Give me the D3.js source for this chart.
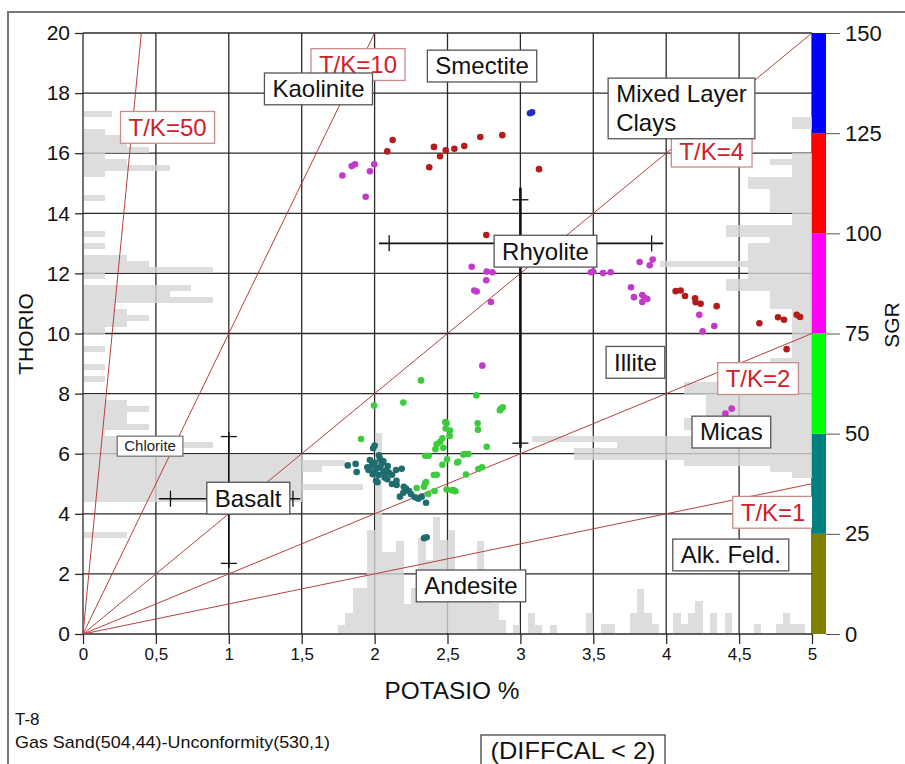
<!DOCTYPE html>
<html>
<head>
<meta charset="utf-8">
<script src="https://cdn.jsdelivr.net/npm/d3@7"></script>
<style>
  body { margin: 0; background: #fff; }
  svg text { font-family: "Liberation Sans", Arial, sans-serif; }
</style>
</head>
<body>
<svg id="chart" width="905" height="764"></svg>
<script>
/* tick values */
var kTicks = [0, 0.5, 1, 1.5, 2, 2.5, 3, 3.5, 4, 4.5, 5];
var thTicks = [0, 2, 4, 6, 8, 10, 12, 14, 16, 18, 20];
var sgrTicks = [0, 25, 50, 75, 100, 125, 150];

/* SGR colour bands (colour bar) and the dot colours used for each band */
var sgrBandColors = ['#808000', '#008080', '#00ff00', '#ff00ff', '#ff0000', '#0000ff'];
var dotColors = ['#6f7d2c', '#1f6c6e', '#3ccb3c', '#c23ac8', '#b41c1c', '#1f2ec4'];

/* thorium / potassium ratio lines */
var tkRatios = [50, 10, 4, 2, 1];

/* samples, [K %, Th ppm], grouped by SGR band */
var tealPts = [[2.0,6.27],[1.99,6.18],[1.816,5.61],[1.87,5.66],[1.877,5.39],[1.968,5.79],[2.037,5.83],
  [2.049,5.68],[2.019,5.52],[1.959,5.46],[2.09,5.59],[1.987,5.32],[2.028,5.29],[2.01,5.1],[2.06,5.37],
  [2.097,5.37],[2.147,5.46],[2.186,5.5],[2.087,5.15],[2.119,4.99],[2.151,4.96],[2.174,4.57],[2.197,4.7],
  [2.236,4.76],[2.215,4.84],[2.277,4.55],[2.323,4.57],[2.353,4.37],[2.339,3.19],[2.357,3.22],[2.03,5.95],
  [2.06,5.75],[1.98,5.6],[2.0,5.4],[2.04,5.55],[2.07,5.2],[2.12,5.3],[2.02,5.05],[2.15,5.1],[2.2,4.9],
  [2.25,4.65],[2.3,4.5],[2.0,5.7],[1.95,5.55],[2.08,5.45]];
var greenPts = [[2.318,8.44],[2.197,7.7],[1.996,7.6],[1.907,6.49],[2.698,7.94],[2.867,7.5],[2.879,7.54],
  [2.707,7.01],[2.709,6.8],[2.769,6.23],[2.485,7.05],[2.487,6.84],[2.517,6.77],[2.515,6.59],[2.465,6.51],
  [2.449,6.4],[2.426,6.31],[2.471,6.2],[2.417,6.15],[2.348,5.93],[2.371,5.93],[2.497,5.81],[2.465,5.63],
  [2.567,5.71],[2.608,5.97],[2.643,5.99],[2.627,5.31],[2.711,5.49],[2.737,5.55],[2.407,5.29],[2.426,5.3],
  [2.353,5.06],[2.339,4.9],[2.289,4.86],[2.494,4.81],[2.529,4.78],[2.554,4.75],[2.412,4.76],[2.368,4.66],
  [2.574,5.73],[2.54,4.79],[2.346,5.01],[2.494,7.01],[2.86,7.45],[2.62,5.99]];
var magentaPts = [[1.779,15.26],[1.843,15.57],[1.866,15.63],[1.968,15.4],[1.998,15.63],[1.939,14.55],
  [2.666,12.22],[2.769,12.06],[2.808,12.04],[2.766,11.77],[2.684,11.43],[2.7,11.4],[2.798,11.05],
  [3.484,12.04],[3.5,12.06],[3.567,12.01],[3.619,12.04],[3.818,12.38],[3.887,12.27],[3.907,12.46],
  [3.759,11.54],[3.779,11.21],[3.836,11.28],[3.852,11.19],[3.87,11.15],[3.836,11.05],[4.227,10.62],
  [4.33,10.25],[4.25,10.07],[4.406,7.34],[4.449,7.5],[2.739,8.93]];
var redPts = [[2.124,16.44],[2.087,16.06],[2.407,16.21],[2.449,15.9],[2.488,16.1],[2.547,16.15],
  [2.615,16.24],[2.725,16.54],[2.876,16.6],[2.375,15.53],[3.128,15.47],[2.766,13.28],[4.065,11.41],
  [4.099,11.43],[4.129,11.25],[4.198,11.17],[4.202,11.04],[4.236,10.99],[4.346,10.91],[4.639,10.34],
  [4.767,10.54],[4.808,10.46],[4.895,10.62],[4.918,10.55],[4.826,9.48]];
var bluePts = [[3.066,17.33],[3.08,17.36]];
/* representative SGR for each group */
var groupSgr = [40, 60, 90, 110, 135];

/* Th histogram on the left, [Th bin start, bar length in K] (bin 0.2) */
var thHistLeft = [[17.2,0.2],[16.6,0.15],[16.4,0.3],[16.2,0.3],[16.0,0.45],[15.8,0.15],[15.6,0.3],
  [15.4,0.6],[15.2,0.15],[14.4,0.15],[13.2,0.15],[12.8,0.15],[12.4,0.3],[12.2,0.45],[12.0,0.89],
  [11.8,0.15],[11.4,0.74],[11.2,0.6],[11.0,0.89],[10.8,0.22],[10.6,0.3],[10.4,0.45],[10.2,0.3],
  [10.0,0.15],[9.4,0.15],[8.8,0.15],[8.4,0.15],[7.8,0.15],[7.6,0.3],[7.4,0.45],[7.2,0.3],[7.0,0.3],
  [6.8,0.45],[6.6,0.15],[6.4,0.3],[6.2,0.89],[6.0,0.3],[5.8,1.5],[5.6,1.8],[5.4,1.64],[5.2,1.5],
  [5.0,1.5],[4.8,1.92],[4.6,1.5],[4.4,1.5],[3.2,0.3]];
/* Th histogram on the right, [Th bin start, bar length in K from the right edge] */
var thHistRight = [[17.0,0.14],[16.8,0.14],[15.8,0.14],[15.6,0.29],[15.4,0.14],[15.2,0.14],[15.0,0.44],
  [14.8,0.44],[14.6,0.29],[14.4,0.29],[14.2,0.29],[14.0,0.29],[13.8,0.14],[13.6,0.14],[13.4,0.59],
  [13.2,0.59],[13.0,0.29],[12.8,0.44],[12.6,0.44],[12.4,0.44],[12.2,1.04],[12.0,0.44],[11.8,0.44],
  [11.6,0.59],[11.4,0.59],[11.2,0.29],[11.0,0.29],[10.8,0.29],[10.6,0.14],[10.4,0.14],[10.2,0.14],
  [10.0,0.14],[9.8,0.14],[9.6,0.14],[9.4,0.14],[9.2,0.14],[9.0,0.29],[8.8,0.29],[8.6,0.44],[8.4,0.59],
  [8.2,0.88],[8.0,0.88],[7.8,0.73],[7.6,0.73],[7.4,0.73],[7.2,0.73],[7.0,0.88],[6.8,0.88],[6.6,0.73],
  [6.4,1.92],[6.2,1.34],[6.0,1.63],[5.8,1.63],[5.6,0.88],[5.4,0.29],[5.2,0.14]];
/* K histogram along the bottom, [K bin start, bar height in Th] (bin 0.05) */
var kHist = [[1.75,0.3],[1.8,0.69],[1.85,1.52],[1.9,1.52],[1.95,3.46],[2.0,6.69],[2.05,2.74],[2.1,2.74],
  [2.15,3.09],[2.2,1.0],[2.25,1.52],[2.3,3.18],[2.35,2.46],[2.4,3.9],[2.45,3.13],[2.5,3.46],[2.55,1.5],
  [2.6,1.5],[2.65,1.5],[2.7,3.1],[2.75,1.2],[2.8,1.03],[2.85,0.47],[2.95,0.3],[3.05,0.71],[3.1,0.3],
  [3.2,0.3],[3.45,0.71],[3.55,0.33],[3.6,0.33],[3.75,0.71],[3.8,1.5],[3.85,0.71],[3.9,0.33],[4.05,0.71],
  [4.1,0.33],[4.15,0.71],[4.2,1.1],[4.3,0.71],[4.4,0.71],[4.6,0.33],[4.75,0.33],[4.8,0.71],[4.85,0.33],
  [4.9,0.33]];

/* reference range crosses for the rock types */
var basaltCross = { k: 1.0, th: 4.5, kRange: [0.52, 1.49], kTicks: [0.6, 1.44],
  thRange: [2.2, 6.72], thTicks: [2.35, 6.57] };
var rhyoliteCross = { k: 3.0, th: 13.0, kRange: [2.03, 3.98], kTicks: [2.1, 3.9],
  thRange: [6.2, 14.85], thTicks: [6.35, 14.45] };

/* annotation boxes [lines, K, Th] */
var tkLabels = [['T/K=50', 0.58, 16.86], ['T/K=10', 1.886, 18.95], ['T/K=4', 4.312, 16.07],
  ['T/K=2', 4.63, 8.5], ['T/K=1', 4.733, 4.05]];
var mineralLabels = [[['Kaolinite'], 1.615, 18.14], [['Smectite'], 2.737, 18.9],
  [['Mixed Layer', 'Clays'], 4.105, 17.49], [['Rhyolite'], 3.172, 12.74], [['Illite'], 3.789, 9.04],
  [['Micas'], 4.447, 6.72], [['Basalt'], 1.134, 4.52], [['Alk. Feld.'], 4.443, 2.63],
  [['Andesite'], 2.661, 1.6]];
var chloriteLabel = ['Chlorite', 0.46, 6.25];

var svg = d3.select('#chart');

var x = d3.scaleLinear().domain([0, 5]).range([83, 812]);
var y = d3.scaleLinear().domain([0, 20]).range([634, 33]);
var sgrY = d3.scaleLinear().domain([0, 150]).range([634, 33]);
var dotColor = d3.scaleThreshold().domain([25, 50, 75, 100, 125]).range(dotColors);

/* outer frame */
svg.append('rect')
  .attr('x', 8).attr('y', 12).attr('width', 1000).attr('height', 1000)
  .attr('fill', '#fff').attr('stroke', '#777').attr('stroke-width', 2);

/* grid */
var grid = svg.append('g').attr('stroke', '#2a2a2a').attr('stroke-width', 1.3);
grid.selectAll('.gx').data(kTicks).enter().append('line')
  .attr('x1', function(d) { return x(d); }).attr('x2', function(d) { return x(d); })
  .attr('y1', y(0)).attr('y2', y(20));
grid.selectAll('.gy').data(thTicks).enter().append('line')
  .attr('x1', x(0)).attr('x2', x(5))
  .attr('y1', function(d) { return y(d); }).attr('y2', function(d) { return y(d); });

/* histograms, laid over the grid */
var hist = svg.append('g').attr('fill', '#d4d4d4').attr('fill-opacity', 0.8)
  .attr('shape-rendering', 'crispEdges');
hist.selectAll('.hl').data(thHistLeft).enter().append('rect')
  .attr('x', x(0) + 1)
  .attr('y', function(d) { return y(d[0] + 0.2); })
  .attr('width', function(d) { return x(d[1]) - x(0) - 1; })
  .attr('height', function(d) { return y(d[0]) - y(d[0] + 0.2); });
hist.selectAll('.hr').data(thHistRight).enter().append('rect')
  .attr('x', function(d) { return x(5 - d[1]); })
  .attr('y', function(d) { return y(d[0] + 0.2); })
  .attr('width', function(d) { return x(5) - x(5 - d[1]); })
  .attr('height', function(d) { return y(d[0]) - y(d[0] + 0.2); });
hist.selectAll('.hb').data(kHist).enter().append('rect')
  .attr('x', function(d) { return x(d[0]); })
  .attr('y', function(d) { return y(d[1]); })
  .attr('width', function(d) { return x(d[0] + 0.05) - x(d[0]); })
  .attr('height', function(d) { return y(0) - y(d[1]) - 1; });

/* axes */
var yAxis = d3.axisLeft(y).tickValues(thTicks).tickSize(8).tickSizeOuter(0).tickPadding(5);
var gy = svg.append('g').attr('transform', 'translate(' + x(0) + ',0)').call(yAxis);
gy.select('.domain').remove();
gy.selectAll('line').attr('stroke', '#2a2a2a').attr('stroke-width', 1.3);
gy.selectAll('text').attr('font-size', 21).attr('fill', '#111')
  .style('font-family', '"Liberation Sans", Arial, sans-serif');

var xAxis = d3.axisBottom(x).tickValues(kTicks).tickSize(10).tickSizeOuter(0).tickPadding(4)
  .tickFormat(function(d) { return String(d).replace('.', ','); });
var gx = svg.append('g').attr('transform', 'translate(0,' + y(0) + ')').call(xAxis);
gx.select('.domain').remove();
gx.selectAll('line').attr('stroke', '#2a2a2a').attr('stroke-width', 1.3);
gx.selectAll('text').attr('font-size', 17).attr('fill', '#111')
  .style('font-family', '"Liberation Sans", Arial, sans-serif');

/* T/K lines */
svg.append('g').selectAll('line').data(tkRatios).enter().append('line')
  .attr('x1', x(0)).attr('y1', y(0))
  .attr('x2', function(r) { return x(Math.min(5, 20 / r)); })
  .attr('y2', function(r) { return y(Math.min(20, 5 * r)); })
  .attr('stroke', '#b5403c').attr('stroke-width', 1);

/* range crosses */
function drawCross(c, vWidth) {
  var g = svg.append('g').attr('stroke', '#111');
  g.append('line').attr('x1', x(c.kRange[0])).attr('x2', x(c.kRange[1]))
    .attr('y1', y(c.th)).attr('y2', y(c.th)).attr('stroke-width', 1.6);
  g.selectAll('.kt').data(c.kTicks).enter().append('line')
    .attr('x1', function(d) { return x(d); }).attr('x2', function(d) { return x(d); })
    .attr('y1', y(c.th) - 8).attr('y2', y(c.th) + 8).attr('stroke-width', 1.3);
  g.append('line').attr('x1', x(c.k)).attr('x2', x(c.k))
    .attr('y1', y(c.thRange[0])).attr('y2', y(c.thRange[1])).attr('stroke-width', vWidth);
  g.selectAll('.tt').data(c.thTicks).enter().append('line')
    .attr('x1', x(c.k) - 8).attr('x2', x(c.k) + 8)
    .attr('y1', function(d) { return y(d); }).attr('y2', function(d) { return y(d); })
    .attr('stroke-width', 1.3);
}
drawCross(basaltCross, 1.6);
drawCross(rhyoliteCross, 2.6);

/* samples */
var groups = [tealPts, greenPts, magentaPts, redPts, bluePts];
var dots = svg.append('g');
groups.forEach(function(pts, i) {
  dots.selectAll('.p' + i).data(pts).enter().append('circle')
    .attr('cx', function(d) { return x(d[0]); })
    .attr('cy', function(d) { return y(d[1]); })
    .attr('r', 3.3)
    .attr('fill', dotColor(groupSgr[i]));
});

/* annotation boxes */
function boxLabel(lines, k, th, opts) {
  var g = svg.append('g');
  var rect = g.append('rect');
  var lh = opts.size * 1.2;
  var t = g.append('text')
    .attr('font-size', opts.size).attr('fill', opts.color);
  lines.forEach(function(s, i) {
    t.append('tspan').attr('x', 0).attr('y', (i - (lines.length - 1) / 2) * lh)
      .attr('dy', '0.35em').text(s);
  });
  var bb = t.node().getBBox();
  var w = bb.width + 2 * opts.pad;
  var h = lines.length * lh + opts.vpad;
  var cx = x(k), cy = y(th);
  t.attr('transform', 'translate(' + (cx - bb.width / 2) + ',' + cy + ')');
  rect.attr('x', cx - w / 2).attr('y', cy - h / 2).attr('width', w).attr('height', h)
    .attr('fill', '#fff').attr('stroke', opts.stroke).attr('stroke-width', 1.3);
}
tkLabels.forEach(function(d) {
  boxLabel([d[0]], d[1], d[2], { size: 24, color: '#d0202a', stroke: '#c98b8b', pad: 8, vpad: 3 });
});
mineralLabels.forEach(function(d) {
  boxLabel(d[0], d[1], d[2], { size: 24, color: '#111', stroke: '#555', pad: 8, vpad: 3 });
});
boxLabel([chloriteLabel[0]], chloriteLabel[1], chloriteLabel[2],
  { size: 15, color: '#222', stroke: '#777', pad: 7, vpad: 2 });

/* SGR colour bar */
var bands = d3.range(sgrBandColors.length);
svg.append('g').selectAll('rect').data(bands).enter().append('rect')
  .attr('x', 812).attr('width', 14)
  .attr('y', function(i) { return sgrY(sgrTicks[i + 1]); })
  .attr('height', function(i) { return sgrY(sgrTicks[i]) - sgrY(sgrTicks[i + 1]); })
  .attr('fill', function(i) { return sgrBandColors[i]; });
var sgrAxis = d3.axisRight(sgrY).tickValues(sgrTicks).tickSize(14).tickSizeOuter(0).tickPadding(5);
var gs = svg.append('g').attr('transform', 'translate(826,0)').call(sgrAxis);
gs.select('.domain').remove();
gs.selectAll('line').attr('stroke', '#555').attr('stroke-width', 1);
gs.selectAll('text').attr('font-size', 22).attr('fill', '#111')
  .style('font-family', '"Liberation Sans", Arial, sans-serif');

/* axis titles and notes */
svg.append('text').attr('transform', 'translate(33,334) rotate(-90)')
  .attr('text-anchor', 'middle').attr('font-size', 21).attr('fill', '#111').text('THORIO');
svg.append('text').attr('transform', 'translate(899,325) rotate(-90)')
  .attr('text-anchor', 'middle').attr('font-size', 21).attr('fill', '#111').text('SGR');
svg.append('text').attr('x', 452).attr('y', 699).attr('text-anchor', 'middle')
  .attr('font-size', 23).attr('fill', '#111').attr('textLength', 135)
  .attr('lengthAdjust', 'spacingAndGlyphs').text('POTASIO %');
svg.append('text').attr('x', 15).attr('y', 725).attr('font-size', 17).attr('fill', '#111')
  .text('T-8');
svg.append('text').attr('x', 15).attr('y', 748).attr('font-size', 17).attr('fill', '#111')
  .attr('textLength', 315).attr('lengthAdjust', 'spacingAndGlyphs')
  .text('Gas Sand(504,44)-Unconformity(530,1)');
svg.append('rect').attr('x', 481).attr('y', 735).attr('width', 184).attr('height', 40)
  .attr('fill', '#fff').attr('stroke', '#444').attr('stroke-width', 1.3);
svg.append('text').attr('x', 573).attr('y', 759).attr('text-anchor', 'middle')
  .attr('font-size', 24).attr('fill', '#111').attr('textLength', 165)
  .attr('lengthAdjust', 'spacingAndGlyphs').text('(DIFFCAL < 2)');
</script>
</body>
</html>
